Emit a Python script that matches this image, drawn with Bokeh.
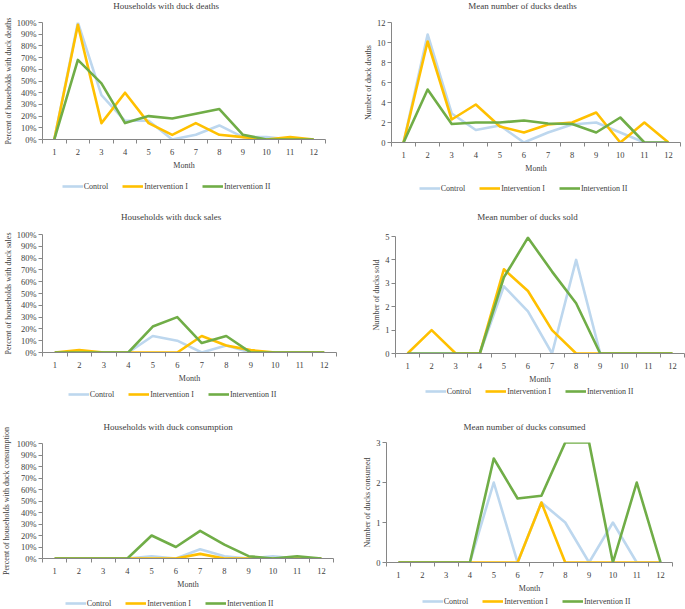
import math
from bokeh.plotting import figure
from bokeh.models import (Range1d, FixedTicker, PrintfTickFormatter, Legend, LegendItem, Label)
from bokeh.layouts import column, row
from bokeh.embed import file_html
from bokeh.resources import INLINE

# ---------------- data ----------------
months = [1, 2, 3, 4, 5, 6, 7, 8, 9, 10, 11, 12]
series_names = ["Control", "Intervention I", "Intervention II"]

deaths_pct_control = [0, 100, 38, 16, 16, 0, 4, 12, 2, 2, 0, 0]
deaths_pct_int1 = [0, 98, 14, 40, 14, 4, 14, 4, 2, 0, 2, 0]
deaths_pct_int2 = [0, 68, 48, 14, 20, 18, 22, 26, 4, 0, 0, 0]

deaths_mean_control = [0, 10.8, 2.9, 1.25, 1.7, 0, 1, 1.8, 2, 1, 0, 0]
deaths_mean_int1 = [0, 10.1, 2.3, 3.8, 1.6, 1, 1.8, 2, 3, 0, 2, 0]
deaths_mean_int2 = [0, 5.3, 1.85, 2, 2, 2.2, 1.9, 1.85, 1, 2.5, 0, 0]

sales_pct_control = [0, 0, 0, 0, 14, 10, 0, 6, 0, 0, 0, 0]
sales_pct_int1 = [0, 2, 0, 0, 0, 0, 14, 6, 2, 0, 0, 0]
sales_pct_int2 = [0, 0, 0, 0, 22, 30, 8, 14, 0, 0, 0, 0]

sold_mean_control = [0, 0, 0, 0, 2.87, 1.8, 0, 4, 0, 0, 0, 0]
sold_mean_int1 = [0, 1, 0, 0, 3.6, 2.67, 1, 0, 0, 0, 0, 0]
sold_mean_int2 = [0, 0, 0, 0, 3.25, 4.95, 3.5, 2.15, 0, 0, 0, 0]

cons_pct_control = [0, 0, 0, 0, 2, 0, 8, 2, 0, 2, 0, 0]
cons_pct_int1 = [0, 0, 0, 0, 0, 0, 4, 0, 0, 0, 0, 0]
cons_pct_int2 = [0, 0, 0, 0, 20, 10, 24, 12, 2, 0, 2, 0]

consumed_mean_control = [0, 0, 0, 0, 2, 0, 1.5, 1, 0, 1, 0, 0]
consumed_mean_int1 = [0, 0, 0, 0, 0, 0, 1.5, 0, 0, 0, 0, 0]
consumed_mean_int2 = [0, 0, 0, 0, 2.6, 1.6, 1.67, 3, 3, 0, 2, 0]

pct_ticks = [0, 10, 20, 30, 40, 50, 60, 70, 80, 90, 100]

# ---------------- style ----------------
FONT = "Liberation Serif"
COLORS = ["#BDD7EE", "#FFC000", "#70AD47"]
AXIS_COLOR = "#868686"
TEXT_COLOR = "#404040"
TITLE_SIZE = "9px"
TICK_SIZE = "8.5px"
AXLABEL_SIZE = "8px"
LEG_PX = 8.0
LINE_W = 2.6
GLYPH_W = 21
LEG_STANDOFF = 1
LEG_SPACING = 14
LEG_H = 10

# Times metrics (Liberation Serif is metric compatible) for the legend width
TW = {' ': 250, 'C': 667, 'I': 333, 'o': 500, 'n': 500, 't': 278, 'r': 333,
      'l': 278, 'e': 444, 'v': 500, 'i': 278}

def text_w(s, size):
    return sum(TW.get(ch, 500) for ch in s) * size / 1000.0

COLS = [(0, 340), (340, 345)]
ROWS = [(0, 200), (200, 200), (400, 209)]

# panel geometry (page pixels): frame l, r, t, b ; title centre ; legend centre
panels = [
    dict(title="Households with duck deaths", ylab="Percent of households with duck deaths",
         data=[deaths_pct_control, deaths_pct_int1, deaths_pct_int2], ymax=100, yticks=pct_ticks, pct=True,
         frame=(41, 325, 22, 139), tc=(165, 5), lc=(165, 186), col=0, row=0, ystrip=0),
    dict(title="Mean number of ducks deaths", ylab="Number of duck deaths",
         data=[deaths_mean_control, deaths_mean_int1, deaths_mean_int2], ymax=12, yticks=[0, 2, 4, 6, 8, 10, 12], pct=False,
         frame=(391, 680, 22, 142), tc=(522, 5), lc=(523, 188), col=1, row=0, ystrip=0),
    dict(title="Households with duck sales", ylab="Percent of households with duck sales",
         data=[sales_pct_control, sales_pct_int1, sales_pct_int2], ymax=100, yticks=pct_ticks, pct=True,
         frame=(41, 336, 234, 352), tc=(170, 216), lc=(171, 397), col=0, row=1, ystrip=0),
    dict(title="Mean number of ducks sold", ylab="Number of ducks sold",
         data=[sold_mean_control, sold_mean_int1, sold_mean_int2], ymax=5, yticks=[0, 1, 2, 3, 4, 5], pct=False,
         frame=(395, 684, 236, 356), tc=(527, 216), lc=(529, 391), col=1, row=1, ystrip=0),
    dict(title="Households with duck consumption", ylab="Percent of households with duck consumption",
         data=[cons_pct_control, cons_pct_int1, cons_pct_int2], ymax=100, yticks=pct_ticks, pct=True,
         frame=(41, 333, 443, 558), tc=(167, 426), lc=(168, 604), col=0, row=2, ystrip=13),
    dict(title="Mean number of ducks consumed", ylab="Number of ducks consumed",
         data=[consumed_mean_control, consumed_mean_int1, consumed_mean_int2], ymax=3, yticks=[0, 1, 2, 3], pct=False,
         frame=(386, 672, 442, 562), tc=(524, 426), lc=(526, 601), col=1, row=2, ystrip=0),
]


def strip(W, H, left, right, xr):
    s = figure(width=W, height=H, output_backend="svg", toolbar_location=None,
               x_axis_type=None, y_axis_type=None, title=None,
               min_border_left=left, min_border_right=right,
               min_border_top=0, min_border_bottom=0,
               x_range=xr, y_range=Range1d(0, H))
    s.outline_line_color = None
    s.xgrid.grid_line_color = None
    s.ygrid.grid_line_color = None
    return s


def make_panel(cfg):
    FL, Wc = COLS[cfg["col"]]
    FT, H = ROWS[cfg["row"]]
    LS = cfg["ystrip"]
    OX = FL + LS            # page x of the chart column
    W = Wc - LS
    fl, fr, ft, fb = cfg["frame"]
    tx, ty = cfg["tc"]
    lx, ly = cfg["lc"]
    bl = fl - OX            # left / right borders shared by the three stacked figures
    br = W - (fr - OX)

    # --- title strip (its frame lines up with the chart frame; x in page pixels) ---
    TSH = round(ty - FT + 7)
    t = strip(W, TSH, bl, br, Range1d(fl, fr))
    t.add_layout(Label(x=tx, y=TSH - (ty - FT), text=cfg["title"],
                       text_align="center", text_baseline="middle",
                       text_font=FONT, text_font_size=TITLE_SIZE, text_font_style="normal",
                       text_color=TEXT_COLOR))

    # --- legend strip ---
    LT = min(round(ly - LEG_H / 2), FT + H - 11)
    LH = FT + H - LT
    q = strip(W, LH, bl, br, Range1d(-30, -20))
    items = []
    for name, vals, col in zip(series_names, cfg["data"], COLORS):
        r = q.line(months, vals, line_color=col, line_width=LINE_W)
        items.append(LegendItem(label=name, renderers=[r]))
    lw = sum(GLYPH_W + LEG_STANDOFF + text_w(n, LEG_PX) for n in series_names) + LEG_SPACING * (len(series_names) - 1)
    q.add_layout(Legend(items=items, orientation="horizontal",
                        location=(lx - lw / 2 - fl, LH - LEG_H),
                        glyph_width=GLYPH_W, glyph_height=LEG_H, label_height=LEG_H, label_width=10,
                        label_standoff=LEG_STANDOFF, spacing=LEG_SPACING, padding=0, margin=0,
                        border_line_color=None, background_fill_alpha=0,
                        label_text_font=FONT, label_text_font_size=f"{LEG_PX}px",
                        label_text_color=TEXT_COLOR, label_text_baseline="middle"))

    # --- main chart ---
    MT = FT + TSH
    MH = LT - MT
    p = figure(width=W, height=MH, output_backend="svg", toolbar_location=None, title=None,
               x_range=Range1d(0.5, 12.5), y_range=Range1d(0, cfg["ymax"]),
               min_border_left=bl, min_border_right=br,
               min_border_top=ft - MT, min_border_bottom=LT - fb)
    p.outline_line_color = None
    p.xgrid.grid_line_color = None
    p.ygrid.grid_line_color = None

    for vals, col in zip(cfg["data"], COLORS):
        p.line(months, vals, line_color=col, line_width=LINE_W, line_join="round")

    xa = p.xaxis[0]
    xa.ticker = FixedTicker(ticks=months, minor_ticks=[m - 0.5 for m in months] + [12.5])
    xa.major_tick_out = 0
    xa.major_tick_in = 0
    xa.minor_tick_out = 4
    xa.minor_tick_in = 0
    xa.minor_tick_line_color = AXIS_COLOR
    xa.axis_line_color = AXIS_COLOR
    xa.major_label_standoff = 5
    xa.axis_label = "Month"
    xa.axis_label_standoff = 3

    ya = p.yaxis[0]
    ya.ticker = FixedTicker(ticks=cfg["yticks"], minor_ticks=[])
    if cfg["pct"]:
        ya.formatter = PrintfTickFormatter(format="%d%%")
    ya.major_tick_out = 4
    ya.major_tick_in = 0
    ya.major_tick_line_color = AXIS_COLOR
    ya.axis_line_color = AXIS_COLOR
    ya.major_label_standoff = 2
    if LS == 0:
        ya.axis_label = cfg["ylab"]
        ya.axis_label_standoff = 1

    for ax in (xa, ya):
        ax.major_label_text_font = FONT
        ax.major_label_text_font_size = TICK_SIZE
        ax.major_label_text_color = TEXT_COLOR
        ax.axis_label_text_font = FONT
        ax.axis_label_text_font_size = AXLABEL_SIZE
        ax.axis_label_text_font_style = "normal"
        ax.axis_label_text_color = TEXT_COLOR
        ax.axis_line_width = 1

    cell = column(t, p, q, spacing=0)
    if LS:
        # y label taller than the chart figure: its own strip at the left edge
        s = strip(LS, H, 0, 0, Range1d(0, LS))
        s.add_layout(Label(x=LS / 2 - 1, y=H - ((ft + fb) / 2 - FT), text=cfg["ylab"],
                           angle=math.pi / 2, text_align="center", text_baseline="middle",
                           text_font=FONT, text_font_size=AXLABEL_SIZE, text_color=TEXT_COLOR))
        cell = row(s, cell, spacing=0)
    return cell


cells = [make_panel(c) for c in panels]
layout = column(row(cells[0], cells[1], spacing=0),
                row(cells[2], cells[3], spacing=0),
                row(cells[4], cells[5], spacing=0), spacing=0)

open("out.html", "w").write(file_html(layout, INLINE))
